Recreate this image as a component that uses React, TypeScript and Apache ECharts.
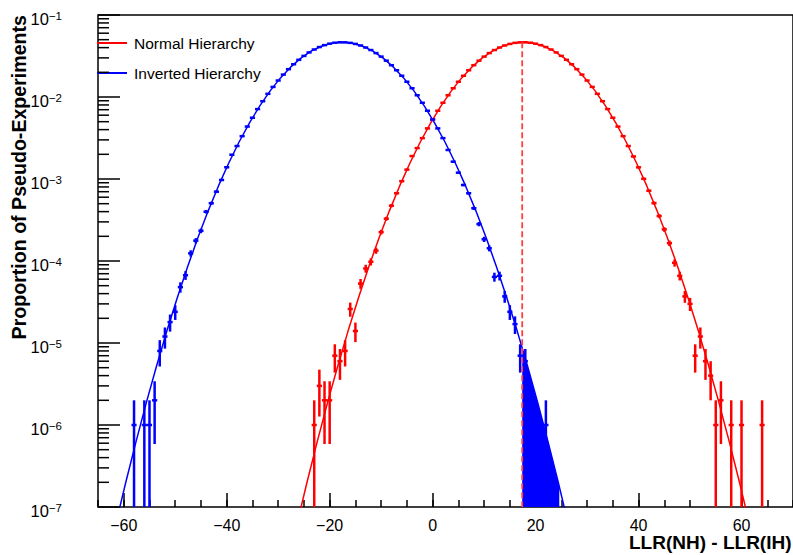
import React, { useEffect, useRef } from "react";
import * as echarts from "echarts";

const FONT = '"Liberation Sans", Arial, Helvetica, sans-serif';
const N_PSEUDO_EXPERIMENTS = 1000000;
const BIN_WIDTH = 1;

// Normal Hierarchy histogram: bin centres start at nhFirstBin, one unit wide
const nhFirstBin = -23;
const nhCounts = [
  1, 3, 2, 2, 7, 6, 8, 26, 14, 53, 81, 98, 134,
  225, 328, 473, 671, 941, 1301, 1905, 2383, 3153, 4141,
  5318, 6800, 8504, 10498, 12778, 15345, 18163, 21196, 24421, 27739,
  31069, 34319, 37380, 40145, 42520, 44406, 45732, 46442, 46507, 45924,
  44718, 42939, 40654, 37960, 34949, 31728, 28407, 25079, 21828, 18757,
  15891, 13270, 10933, 8881, 7122, 5585, 4361, 3330, 2524, 1883,
  1386, 1005, 719, 508, 354, 243, 165, 95, 66, 37,
  30, 7, 12, 6, 4, 1, 2, 0, 1, 0, 1, 0, 0, 0, 1,
];

// Inverted Hierarchy histogram
const ihFirstBin = -58;
const ihCounts = [
  1, 0, 1, 1, 2, 8, 12, 18, 24, 48, 67, 124, 177, 234, 399, 506,
  700, 973, 1390, 1977, 2524, 3330, 4361, 5585, 7122, 8881,
  10933, 13270, 15891, 18757, 21828, 25079, 28407, 31728, 34949, 37960,
  40654, 42939, 44718, 45924, 46507, 46442, 45732, 44406, 42520, 40145,
  37380, 34319, 31069, 27739, 24421, 21196, 18163, 15345, 12778, 10498,
  8504, 6800, 5318, 4141, 3153, 2259, 1627, 1194, 845, 670,
  440, 282, 184, 143, 64, 66, 37, 24, 17, 7, 6, 1, 1, 0, 1,
];

// Gaussian fits, sampled around each fitted mean
const nhFitMean = 17.6;
const ihFitMean = -17.6;
const fitOffsets = [
  -44, -42, -40, -38, -36, -34, -32, -30, -28, -26, -24, -22, -20, -18, -16, -14, -12, -10, -8, -6, -4, -2,
  0, 2, 4, 6, 8, 10, 12, 14, 16, 18, 20, 22, 24, 26, 28, 30, 32, 34, 36, 38, 40, 42, 44,
];
const fitProportion = [
  6.008e-8, 2.003e-7, 6.322e-7, 1.886e-6, 5.316e-6, 1.417e-5, 3.573e-5, 8.514e-5, 1.919e-4, 4.089e-4, 8.236e-4,
  1.569e-3, 2.826e-3, 4.812e-3, 7.748e-3, 1.18e-2, 1.698e-2, 2.311e-2, 2.974e-2, 3.619e-2, 4.162e-2, 4.527e-2,
  4.656e-2,
  4.527e-2, 4.162e-2, 3.619e-2, 2.974e-2, 2.311e-2, 1.698e-2, 1.18e-2, 7.748e-3, 4.812e-3, 2.826e-3, 1.569e-3,
  8.236e-4, 4.089e-4, 1.919e-4, 8.514e-5, 3.573e-5, 1.417e-5, 5.316e-6, 1.886e-6, 6.322e-7, 2.003e-7, 6.008e-8,
];

// dashed marker at the NH median and shaded IH tail beyond it
const nhMedian = 17.4;
const nhMedianTop = 0.0466;
const tailX = [17.4, 18.4, 20.4, 22.4, 24.6];
const tailProportion = [8.74e-6, 5.316e-6, 1.886e-6, 6.322e-7, 1.78e-7];

const xLabelValues = [-60, -40, -20, 0, 20, 40, 60];
const xMinorTicks = [
  -65, -60, -55, -50, -45, -40, -35, -30, -25, -20, -15, -10, -5, 0, 5, 10, 15, 20, 25, 30, 35, 40, 45, 50, 55, 60, 65, 70,
];
const yDecades = [1e-7, 1e-6, 1e-5, 1e-4, 1e-3, 1e-2, 1e-1];
const yMinorTicks = [
  2e-7, 3e-7, 4e-7, 5e-7, 6e-7, 7e-7, 8e-7, 9e-7,
  2e-6, 3e-6, 4e-6, 5e-6, 6e-6, 7e-6, 8e-6, 9e-6,
  2e-5, 3e-5, 4e-5, 5e-5, 6e-5, 7e-5, 8e-5, 9e-5,
  2e-4, 3e-4, 4e-4, 5e-4, 6e-4, 7e-4, 8e-4, 9e-4,
  2e-3, 3e-3, 4e-3, 5e-3, 6e-3, 7e-3, 8e-3, 9e-3,
  2e-2, 3e-2, 4e-2, 5e-2, 6e-2, 7e-2, 8e-2, 9e-2,
];

const NH_NAME = "Normal Hierarchy";
const IH_NAME = "Inverted Hierarchy";
const X_TITLE = "LLR(NH) - LLR(IH)";
const Y_TITLE = "Proportion of Pseudo-Experiments";
const RED = "#ff0000";
const BLUE = "#0000ff";
const X_MIN = -65;
const X_MAX = 70;
const Y_MIN = 1e-7;
const Y_MAX = 1e-1;
const Y_MAJOR_TICK = 22;
const Y_MINOR_TICK = 11;

function histData(first: number, counts: number[]) {
  const out: number[][] = [];
  counts.forEach((c, i) => {
    if (c > 0) {
      out.push([first + i * BIN_WIDTH, c / N_PSEUDO_EXPERIMENTS, Math.sqrt(c) / N_PSEUDO_EXPERIMENTS]);
    }
  });
  return out;
}

function fitData(mean: number) {
  return fitOffsets.map((o, i) => [mean + o, fitProportion[i]]);
}

function errorBarRenderer(color: string) {
  return (params: any, api: any) => {
    const x = api.value(0);
    const v = api.value(1);
    const e = api.value(2);
    const half = BIN_WIDTH / 2;
    const l = api.coord([x - half, v]);
    const r = api.coord([x + half, v]);
    const hi = api.coord([x, Math.min(v + e, Y_MAX)]);
    const lo = api.coord([x, Math.max(v - e, Y_MIN)]);
    const style = { stroke: color, lineWidth: 2.5 };
    return {
      type: "group",
      children: [
        { type: "line", shape: { x1: l[0], y1: l[1], x2: r[0], y2: r[1] }, style },
        { type: "line", shape: { x1: hi[0], y1: hi[1], x2: lo[0], y2: lo[1] }, style },
      ],
    };
  };
}

// y-axis tick marks (inside the frame), placed through the axis scale
function yTickRenderer(params: any, api: any) {
  const v = api.value(1);
  const len = api.value(2);
  const p = api.coord([X_MIN, v]);
  return {
    type: "line",
    shape: { x1: p[0], y1: p[1], x2: p[0] + len, y2: p[1] },
    style: { stroke: "#000", lineWidth: 1.5 },
  };
}

const fmtX = (v: number) => (v < 0 ? "\u2212" + -v : String(v));
const fmtY = (v: number) => {
  const e = Math.round(Math.log10(v));
  return `{b|10}{s|${e < 0 ? "\u2212" + -e : e}}`;
};

const tickLine = { color: "#000", width: 1.5 };

export default function App() {
  const ref = useRef<HTMLDivElement>(null);
  useEffect(() => {
    const chart = echarts.init(ref.current!, null, { renderer: "svg" });
    const yTickData = [
      ...yDecades.map((v) => [X_MIN, v, Y_MAJOR_TICK]),
      ...yMinorTicks.map((v) => [X_MIN, v, Y_MINOR_TICK]),
    ];
    const option: any = {
      animation: false,
      backgroundColor: "#ffffff",
      grid: {
        left: 98,
        top: 15,
        width: 698,
        height: 492,
        show: true,
        borderColor: "#000",
        borderWidth: 1.5,
        backgroundColor: "transparent",
      },
      legend: {
        orient: "vertical",
        left: 92,
        top: 30,
        itemWidth: 30,
        itemHeight: 2,
        itemGap: 14,
        data: [
          { name: NH_NAME, icon: "rect" },
          { name: IH_NAME, icon: "rect" },
        ],
        textStyle: { fontFamily: FONT, fontSize: 15.5, lineHeight: 16, color: "#000", padding: [0, 0, 0, 2] },
        selectedMode: false,
      },
      xAxis: [
        {
          type: "value",
          min: X_MIN,
          max: X_MAX,
          position: "bottom",
          axisLine: { show: false, onZero: false },
          splitLine: { show: false },
          axisTick: { show: true, inside: true, length: 14, customValues: xLabelValues, lineStyle: tickLine },
          axisLabel: {
            customValues: xLabelValues,
            formatter: fmtX,
            margin: 11,
            fontFamily: FONT,
            fontSize: 16,
            lineHeight: 14,
            color: "#000",
          },
        },
        {
          type: "value",
          min: X_MIN,
          max: X_MAX,
          position: "bottom",
          axisLine: { show: false, onZero: false },
          splitLine: { show: false },
          axisLabel: { show: false },
          axisTick: { show: true, inside: true, length: 7, customValues: xMinorTicks, lineStyle: tickLine },
        },
      ],
      yAxis: [
        {
          type: "log",
          logBase: 10,
          min: Y_MIN,
          max: Y_MAX,
          position: "left",
          axisLine: { show: false, onZero: false },
          splitLine: { show: false },
          minorTick: { show: false },
          axisTick: { show: false },
          axisLabel: {
            customValues: yDecades,
            margin: 36,
            padding: [7, 0, 0, 0],
            formatter: fmtY,
            rich: {
              b: { fontFamily: FONT, fontSize: 16.5, color: "#000", lineHeight: 17, verticalAlign: "top" },
              s: { fontFamily: FONT, fontSize: 11.5, color: "#000", lineHeight: 12, verticalAlign: "top" },
            },
          },
        },
      ],
      graphic: [
        {
          type: "text",
          x: 19,
          y: 15,
          rotation: Math.PI / 2,
          style: {
            text: Y_TITLE,
            font: `bold 19.6px ${FONT}`,
            fill: "#000",
            align: "right",
            verticalAlign: "middle",
          },
        },
        {
          type: "text",
          x: 629,
          y: 533,
          style: {
            text: X_TITLE,
            font: `bold 19px ${FONT}`,
            lineHeight: 19,
            fill: "#000",
            align: "left",
            verticalAlign: "top",
          },
        },
      ],
      series: [
        {
          name: "IH tail beyond NH median",
          type: "line",
          data: tailX.map((x, i) => [x, tailProportion[i]]),
          showSymbol: false,
          lineStyle: { width: 0 },
          areaStyle: { color: BLUE, opacity: 1, origin: "start" },
          itemStyle: { color: BLUE },
          z: 1,
        },
        {
          name: NH_NAME,
          type: "line",
          data: fitData(nhFitMean),
          showSymbol: false,
          lineStyle: { color: RED, width: 1.5 },
          itemStyle: { color: RED },
          z: 3,
        },
        {
          name: IH_NAME,
          type: "line",
          data: fitData(ihFitMean),
          showSymbol: false,
          lineStyle: { color: BLUE, width: 1.5 },
          itemStyle: { color: BLUE },
          z: 3,
        },
        {
          name: "NH pseudo-experiments",
          type: "custom",
          data: histData(nhFirstBin, nhCounts),
          renderItem: errorBarRenderer(RED),
          itemStyle: { color: RED },
          encode: { x: 0, y: 1 },
          z: 4,
        },
        {
          name: "IH pseudo-experiments",
          type: "custom",
          data: histData(ihFirstBin, ihCounts),
          renderItem: errorBarRenderer(BLUE),
          itemStyle: { color: BLUE },
          encode: { x: 0, y: 1 },
          z: 4,
        },
        {
          name: "NH median",
          type: "line",
          data: [
            [nhMedian, nhMedianTop],
            [nhMedian, Y_MIN],
          ],
          showSymbol: false,
          lineStyle: { color: "#ff4040", width: 1.8, type: [6, 3] },
          itemStyle: { color: "#ff4040" },
          z: 5,
        },
        {
          name: "y ticks",
          type: "custom",
          data: yTickData,
          renderItem: yTickRenderer,
          encode: { x: 0, y: 1 },
          silent: true,
          z: 6,
        },
      ],
    };
    chart.setOption(option);
    return () => chart.dispose();
  }, []);
  return (
    <div
      ref={ref}
      style={{ position: "absolute", left: 0, top: 0, width: 793, height: 555, background: "#fff" }}
    />
  );
}
